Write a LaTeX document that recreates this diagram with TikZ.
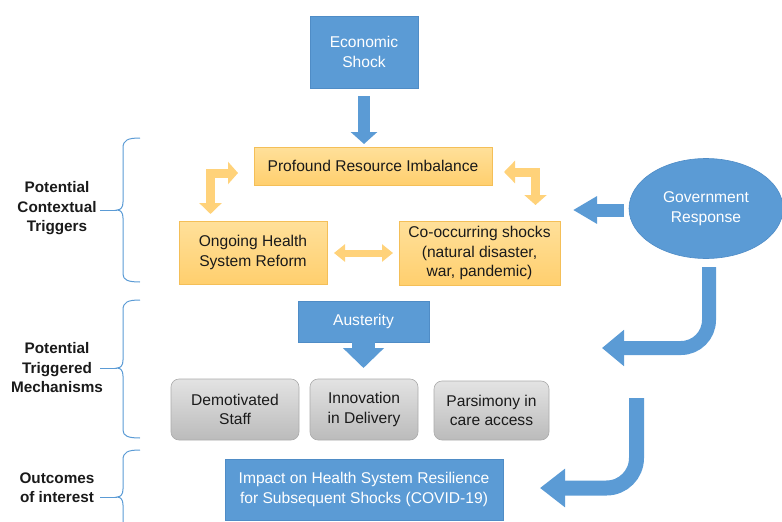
\documentclass[tikz,border=0pt]{standalone}
\usepackage{fontspec}
\setmainfont{Liberation Sans}
\usetikzlibrary{shapes.geometric,arrows.meta}
\definecolor{bluefill}{HTML}{5B9BD5}
\definecolor{blueline}{HTML}{4F8CC6}
\definecolor{orangetop}{HTML}{FFE09A}
\definecolor{orangebot}{HTML}{FFCF6E}
\definecolor{orangeline}{HTML}{F4BF58}
\definecolor{orangearrow}{HTML}{FFD27A}
\definecolor{graytop}{HTML}{E3E3E3}
\definecolor{graybot}{HTML}{BBBBBB}
\definecolor{grayline}{HTML}{ABABAB}
\definecolor{textdark}{HTML}{1A1A1A}
\tikzset{
  boxtext/.style={font=\fontsize{15.6}{19.5}\selectfont, align=center, inner sep=0pt},
  bluebox/.style={boxtext, rectangle, fill=bluefill, draw=blueline, line width=0.6pt, text=white},
  orangebox/.style={boxtext, rectangle, top color=orangetop, bottom color=orangebot, draw=orangeline, line width=0.8pt, text=textdark},
  graybox/.style={boxtext, rectangle, rounded corners=8pt, top color=graytop, bottom color=graybot, draw=grayline, line width=0.6pt, text=textdark},
  sidelabel/.style={font=\bfseries\fontsize{15.3}{19.5}\selectfont, align=center, inner sep=0pt, text=textdark},
  bracestyle/.style={draw=bluefill, line width=1pt},
  bluearrow/.style={draw=bluefill},
  orangearrowstyle/.style={draw=orangearrow}
}
\begin{document}
\begin{tikzpicture}[x=1pt,y=-1pt]
\useasboundingbox (0,0) rectangle (782,522);

% nodes
\node[bluebox, minimum width=108pt, minimum height=72pt] (econ) at (364,52) {Economic\\Shock};
\node[orangebox, minimum width=238pt, minimum height=38pt] (pri) at (373,166) {Profound Resource Imbalance};
\node[orangebox, minimum width=148pt, minimum height=63pt] (reform) at (253,252.5) {Ongoing Health\\System Reform};
\node[orangebox, minimum width=161pt, minimum height=64pt] (cooc) at (479.5,253) {Co-occurring shocks\\(natural disaster,\\war, pandemic)};
\node[ellipse, fill=bluefill, draw=blueline, line width=0.6pt, minimum width=154pt, minimum height=100pt, inner sep=0pt, text=white, font=\fontsize{15.6}{19.5}\selectfont, align=center] (gov) at (706,208.5) {Government\\Response};
\node[bluebox, minimum width=131pt, minimum height=41pt] (aust) at (363.5,321.5) {Austerity};
\node[graybox, minimum width=128pt, minimum height=61pt] (demot) at (235,409.5) {Demotivated\\Staff};
\node[graybox, minimum width=108pt, minimum height=61pt] (innov) at (364,409.5) {Innovation\\in Delivery};
\node[graybox, minimum width=115pt, minimum height=59pt] (pars) at (491.5,410.5) {Parsimony in\\care access};
\node[bluebox, minimum width=278pt, minimum height=61pt] (impact) at (364,489.5) {Impact on Health System Resilience\\for Subsequent Shocks (COVID-19)};

\node[sidelabel] (lab1) at (57,208.5) {Potential\\Contextual\\Triggers};
\node[sidelabel] (lab2) at (57,368) {Potential\\Triggered\\Mechanisms};
\node[sidelabel] (lab3) at (57,487.5) {Outcomes\\of interest};

% braces
\coordinate (b1) at (117,210);
\coordinate (b2) at (117,368);
\coordinate (b3) at (117,497);
\draw[bracestyle] (140,138) .. controls (128,138) and (123,140) .. (123,148) -- (123,202) .. controls (123,207) and (121,210) .. (b1) .. controls (121,210) and (123,213) .. (123,218) -- (123,274) .. controls (123,280) and (128,282) .. (140,282);
\draw[bracestyle] (100,210) -- (b1);
\draw[bracestyle] (140,300) .. controls (128,300) and (123,302) .. (123,310) -- (123,360) .. controls (123,365) and (121,368) .. (b2) .. controls (121,368) and (123,371) .. (123,376) -- (123,430) .. controls (123,436) and (128,438) .. (140,438);
\draw[bracestyle] (100,368) -- (b2);
\draw[bracestyle] (140,450) .. controls (128,450) and (123,452) .. (123,460) -- (123,489) .. controls (123,494) and (121,497) .. (b3) .. controls (121,497) and (123,500) .. (123,505) -- (123,536) .. controls (123,542) and (128,544) .. (140,544);
\draw[bracestyle] (100,497) -- (b3);

% arrow end coordinates
\coordinate (econA) at (364,96);
\coordinate (econB) at (364,144);
\coordinate (lelA) at (210.5,214);
\coordinate (lelB) at (238,173);
\coordinate (relA) at (535.5,205);
\coordinate (relB) at (504,172);
\coordinate (dblA) at (334,253);
\coordinate (dblB) at (393,253);
\coordinate (govA) at (624,210);
\coordinate (govB) at (573,210);
\coordinate (cv1A) at (709,267);
\coordinate (cv1B) at (602,348);
\coordinate (cv2A) at (636.5,398);
\coordinate (cv2B) at (540,488);
\coordinate (austA) at (363.5,341);
\coordinate (austB) at (363.5,368);

% arrows
\draw[bluearrow, line width=12pt, -{Triangle[width=26pt,length=12pt]}] (econA) -- (econB);
\draw[orangearrowstyle, line width=9pt, {Triangle[width=22pt,length=11pt]}-{Triangle[width=22pt,length=10pt]}] (lelA) |- (lelB);
\draw[orangearrowstyle, line width=9pt, {Triangle[width=22pt,length=10pt]}-{Triangle[width=22pt,length=11pt]}] (relA) |- (relB);
\draw[orangearrowstyle, line width=7pt, {Triangle[width=17pt,length=11pt]}-{Triangle[width=17pt,length=11pt]}] (dblA) -- (dblB);
\draw[bluearrow, line width=13pt, -{Triangle[width=26pt,length=24pt]}] (govA) -- (govB);
\draw[bluearrow, line width=14pt, rounded corners=28pt, -{Triangle[width=35pt,length=22pt]}] (cv1A) |- (cv1B);
\draw[bluearrow, line width=15pt, rounded corners=30pt, -{Triangle[width=37pt,length=25pt]}] (cv2A) |- (cv2B);
\draw[bluearrow, line width=23pt, -{Triangle[width=40pt,length=20pt]}] (austA) -- (austB);
\end{tikzpicture}
\end{document}
